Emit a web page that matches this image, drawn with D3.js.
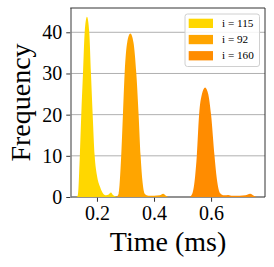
<!DOCTYPE html>
<html>
<head>
<meta charset="utf-8">
<script src="https://cdn.jsdelivr.net/npm/d3@7"></script>
<style>
  body { margin: 0; background: white; }
  svg { display: block; }
  text { font-family: "Liberation Serif", "Times New Roman", serif; fill: black; }
</style>
</head>
<body>
<svg id="svg"></svg>
<script>
const WIDTH = 274;
const HEIGHT = 267;
const MARGIN = {top: 8, right: 9, bottom: 70, left: 71};
const SERIF = "Liberation Serif, Times New Roman, serif";

// series labels and colours
const LABELS = ["i = 115", "i = 92", "i = 160"];
const COLORS = ["#ffd700", "#ffa500", "#ff8c00"];

// [time (ms), frequency]
const SERIES_115 = [
  [0.128, 0], [0.133, 0.4], [0.140, 10], [0.145, 20], [0.151, 30], [0.157, 40],
  [0.165, 43.8], [0.173, 40], [0.179, 30], [0.185, 20], [0.192, 10], [0.200, 5.2],
  [0.211, 2.4], [0.222, 0.8], [0.232, 0.4], [0.241, 0.6], [0.249, 1.1], [0.256, 0.5],
  [0.264, 0.2], [0.270, 0]
];
const SERIES_92 = [
  [0.268, 0], [0.276, 0.8], [0.285, 10], [0.291, 20], [0.297, 30], [0.306, 37.5],
  [0.317, 39.7], [0.328, 37.5], [0.338, 30], [0.346, 20], [0.353, 10], [0.360, 3.5],
  [0.368, 0.7], [0.380, 0.3], [0.400, 0.3], [0.420, 0.4], [0.432, 0.8], [0.442, 0.3],
  [0.450, 0]
];
const SERIES_160 = [
  [0.525, 0], [0.534, 0.8], [0.544, 5], [0.550, 10], [0.558, 20], [0.568, 25],
  [0.579, 26.6], [0.590, 25], [0.600, 20], [0.612, 10], [0.620, 4.5], [0.632, 0.9],
  [0.645, 0.4], [0.660, 0.5], [0.675, 0.3], [0.700, 0.3], [0.720, 0.4], [0.737, 0.8],
  [0.750, 0.3], [0.760, 0]
];
const SERIES = [SERIES_115, SERIES_92, SERIES_160];

const X_DOMAIN = [0.109, 0.789];
const Y_DOMAIN = [0, 45.9];
const X_TICKS = [0.2, 0.4, 0.6];
const Y_TICKS = [0, 10, 20, 30, 40];

const svg = d3.select("#svg").attr("width", WIDTH).attr("height", HEIGHT);

const x = d3.scaleLinear().domain(X_DOMAIN).range([MARGIN.left, WIDTH - MARGIN.right]);
const y = d3.scaleLinear().domain(Y_DOMAIN).range([HEIGHT - MARGIN.bottom, MARGIN.top]);

// Grid
svg.append("g")
  .selectAll("line")
  .data(Y_TICKS.filter((d) => d > 0))
  .enter()
  .append("line")
  .attr("x1", MARGIN.left)
  .attr("x2", WIDTH - MARGIN.right)
  .attr("y1", (d) => y(d))
  .attr("y2", (d) => y(d))
  .attr("stroke", "#b0b0b0")
  .attr("stroke-width", 1);

// Bottom spine sits under the fills
svg.append("line")
  .attr("x1", MARGIN.left).attr("x2", WIDTH - MARGIN.right)
  .attr("y1", y(0)).attr("y2", y(0))
  .attr("stroke", "#6e6e6e").attr("stroke-width", 1.5);

// Distributions
const area = d3.area()
  .curve(d3.curveMonotoneX)
  .x((d) => x(d[0]))
  .y0(y(0))
  .y1((d) => y(d[1]));

svg.append("g")
  .selectAll("path")
  .data(SERIES)
  .enter()
  .append("path")
  .attr("d", area)
  .attr("fill", (d, i) => COLORS[i]);

svg.append("line")
  .attr("x1", MARGIN.left).attr("x2", MARGIN.left)
  .attr("y1", MARGIN.top).attr("y2", y(0) + 0.75)
  .attr("stroke", "#7a7a7a").attr("stroke-width", 1.5);
svg.append("line")
  .attr("x1", MARGIN.left - 0.75).attr("x2", WIDTH - MARGIN.right)
  .attr("y1", MARGIN.top).attr("y2", MARGIN.top)
  .attr("stroke", "#333").attr("stroke-width", 1);
svg.append("line")
  .attr("x1", WIDTH - MARGIN.right).attr("x2", WIDTH - MARGIN.right)
  .attr("y1", MARGIN.top).attr("y2", y(0))
  .attr("stroke", "#333").attr("stroke-width", 1);

// Axes
const xAxis = svg.append("g")
  .attr("transform", `translate(0, ${y(0) + 0.75})`)
  .call(d3.axisBottom(x).tickValues(X_TICKS).tickSize(4).tickPadding(4).tickFormat(d3.format(".1f")));
const yAxis = svg.append("g")
  .attr("transform", `translate(${MARGIN.left - 0.75}, 0)`)
  .call(d3.axisLeft(y).tickValues(Y_TICKS).tickSize(4).tickPadding(4));

[xAxis, yAxis].forEach((axis) => {
  axis.attr("font-family", SERIF).attr("font-size", 20);
  axis.select(".domain").remove();
  axis.selectAll(".tick line").attr("stroke", "#333");
  axis.selectAll(".tick text").attr("fill", "black");
});

// Axis titles
svg.append("text")
  .attr("x", (MARGIN.left + WIDTH - MARGIN.right) / 2)
  .attr("y", 251)
  .attr("text-anchor", "middle")
  .attr("font-size", 28)
  .text("Time (ms)");

svg.append("text")
  .attr("transform", `translate(30, ${(MARGIN.top + y(0)) / 2}) rotate(-90)`)
  .attr("text-anchor", "middle")
  .attr("font-size", 28)
  .text("Frequency");

// Legend
const legend = svg.append("g")
  .attr("transform", "translate(185, 14)")
  .attr("font-family", SERIF);
legend.append("rect")
  .attr("width", 74.5)
  .attr("height", 52.5)
  .attr("rx", 2.5)
  .attr("fill", "white")
  .attr("fill-opacity", 0.85)
  .attr("stroke", "#d0d0d0")
  .attr("stroke-width", 1);

const items = legend.selectAll("g.item")
  .data(LABELS)
  .enter()
  .append("g")
  .attr("class", "item")
  .attr("transform", (d, i) => `translate(0, ${i * 16.2})`);
items.append("rect")
  .attr("x", 3.7)
  .attr("y", 4.7)
  .attr("width", 24.3)
  .attr("height", 9.3)
  .attr("fill", (d, i) => COLORS[i]);
items.append("text")
  .attr("x", 37)
  .attr("y", 13)
  .attr("font-size", 11.2)
  .text((d) => d);
</script>
</body>
</html>
